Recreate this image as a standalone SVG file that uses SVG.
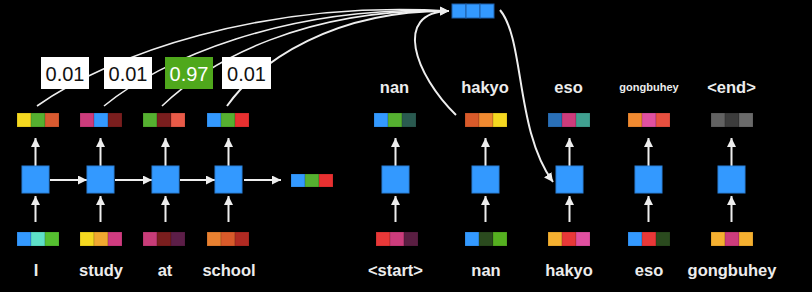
<svg xmlns="http://www.w3.org/2000/svg" width="812" height="292" viewBox="0 0 812 292">
<defs>
<marker id="ah" markerUnits="userSpaceOnUse" markerWidth="9" markerHeight="9" refX="9" refY="4.5" orient="auto">
<path d="M0,0 L9,4.5 L0,9 z" fill="#eeeeee"/>
</marker>
<style>
.cell{fill:#3399ff;stroke:#2a7fd6;stroke-width:1}
.sq{stroke:#000;stroke-opacity:0.25;stroke-width:0.6}
.arr{stroke:#eeeeee;stroke-width:2;fill:none;marker-end:url(#ah)}
.cur{stroke:#eeeeee;stroke-width:1.6;fill:none}
.lbl{font-family:"Liberation Sans",Arial,sans-serif;font-weight:bold;font-size:16.5px;fill:#ececec;text-anchor:middle}
.w{font-family:"Liberation Sans",Arial,sans-serif;font-size:20px;fill:#111;text-anchor:middle}
.wb{fill:#ffffff}
</style>
</defs>
<rect width="812" height="292" fill="#000"/>

<g id="connectors">
  <path class="cur" d="M37,106 C110,55 260,0 449,11"/>
  <path class="cur" d="M104,106 C160,60 285,5 449,11"/>
  <path class="cur" d="M162,106 C210,60 305,8 449,11"/>
  <path class="arr" d="M227,106 C260,60 335,10 449,11"/>
  <path class="arr" d="M456,115 C415,75 392,12 449,11"/>
  <path class="arr" d="M500,10 C525,40 515,130 553,182"/>
  <path class="arr" d="M50,180 H87"/>
  <path class="arr" d="M115,180 H152"/>
  <path class="arr" d="M180,180 H215"/>
  <path class="arr" d="M244,180 H281"/>
  <path class="arr" d="M35.5,222 V196"/>
  <path class="arr" d="M100.5,222 V196"/>
  <path class="arr" d="M165.5,222 V196"/>
  <path class="arr" d="M228.5,222 V196"/>
  <path class="arr" d="M35.5,166 V138"/>
  <path class="arr" d="M100.5,166 V138"/>
  <path class="arr" d="M165.5,166 V138"/>
  <path class="arr" d="M228.5,166 V138"/>
  <path class="arr" d="M395.5,222 V196"/>
  <path class="arr" d="M485.5,222 V196"/>
  <path class="arr" d="M569.5,222 V196"/>
  <path class="arr" d="M648.5,222 V196"/>
  <path class="arr" d="M731.5,222 V196"/>
  <path class="arr" d="M395.5,166 V138"/>
  <path class="arr" d="M485.5,166 V138"/>
  <path class="arr" d="M569.5,166 V138"/>
  <path class="arr" d="M648.5,166 V138"/>
  <path class="arr" d="M731.5,166 V138"/>
</g>

<g id="w1"><rect x="41" y="57" width="48" height="32" class="wb"/><text x="65" y="81" class="w">0.01</text></g>
<g id="w2"><rect x="104" y="57" width="48" height="32" class="wb"/><text x="128" y="81" class="w">0.01</text></g>
<g id="w3"><rect x="165" y="57" width="48" height="32" fill="#4fa81c"/><text x="189" y="81" class="w" style="fill:#ffffff">0.97</text></g>
<g id="w4"><rect x="222" y="57" width="49" height="32" class="wb"/><text x="246.5" y="81" class="w">0.01</text></g>

<g id="context">
  <rect x="452" y="4" width="14" height="14" fill="#3399ff" stroke="#1e5fa8" stroke-width="1"/>
  <rect x="466" y="4" width="14" height="14" fill="#3399ff" stroke="#1e5fa8" stroke-width="1"/>
  <rect x="480" y="4" width="14" height="14" fill="#3399ff" stroke="#1e5fa8" stroke-width="1"/>
</g>

<g id="enc1">
  <rect x="17" y="113" width="14" height="14" class="sq" fill="#f5d820"/><rect x="31" y="113" width="14" height="14" class="sq" fill="#55b030"/><rect x="45" y="113" width="14" height="14" class="sq" fill="#d85a30"/>
  <rect x="22" y="166" width="27" height="27" class="cell"/>
  <rect x="17" y="232" width="14" height="14" class="sq" fill="#3399ff"/><rect x="31" y="232" width="14" height="14" class="sq" fill="#5ee0c8"/><rect x="45" y="232" width="14" height="14" class="sq" fill="#55c030"/>
  <text x="36" y="276" class="lbl">I</text>
</g>
<g id="enc2">
  <rect x="80" y="113" width="14" height="14" class="sq" fill="#cc3c7c"/><rect x="94" y="113" width="14" height="14" class="sq" fill="#3399ff"/><rect x="108" y="113" width="14" height="14" class="sq" fill="#7a1e1e"/>
  <rect x="87" y="166" width="27" height="27" class="cell"/>
  <rect x="80" y="232" width="14" height="14" class="sq" fill="#f5d820"/><rect x="94" y="232" width="14" height="14" class="sq" fill="#f0a830"/><rect x="108" y="232" width="14" height="14" class="sq" fill="#d03c80"/>
  <text x="101" y="276" class="lbl">study</text>
</g>
<g id="enc3">
  <rect x="143" y="113" width="14" height="14" class="sq" fill="#55b030"/><rect x="157" y="113" width="14" height="14" class="sq" fill="#7a1e1e"/><rect x="171" y="113" width="14" height="14" class="sq" fill="#e85a48"/>
  <rect x="152" y="166" width="27" height="27" class="cell"/>
  <rect x="143" y="232" width="14" height="14" class="sq" fill="#c83c78"/><rect x="157" y="232" width="14" height="14" class="sq" fill="#7a1e1e"/><rect x="171" y="232" width="14" height="14" class="sq" fill="#5c1e48"/>
  <text x="165" y="276" class="lbl">at</text>
</g>
<g id="enc4">
  <rect x="207" y="113" width="14" height="14" class="sq" fill="#3399ff"/><rect x="221" y="113" width="14" height="14" class="sq" fill="#55b030"/><rect x="235" y="113" width="14" height="14" class="sq" fill="#e83030"/>
  <rect x="215" y="166" width="27" height="27" class="cell"/>
  <rect x="207" y="232" width="14" height="14" class="sq" fill="#e88030"/><rect x="221" y="232" width="14" height="14" class="sq" fill="#d85a2a"/><rect x="235" y="232" width="14" height="14" class="sq" fill="#b02a22"/>
  <text x="229" y="276" class="lbl">school</text>
</g>
<g id="enc_out">
  <rect x="291" y="174" width="14" height="13" class="sq" fill="#3399ff"/><rect x="305" y="174" width="14" height="13" class="sq" fill="#55b030"/><rect x="319" y="174" width="14" height="13" class="sq" fill="#e83030"/>
</g>

<g id="dec1">
  <text x="394.5" y="93" class="lbl">nan</text>
  <rect x="374" y="113" width="14" height="14" class="sq" fill="#3399ff"/><rect x="388" y="113" width="14" height="14" class="sq" fill="#55b030"/><rect x="402" y="113" width="14" height="14" class="sq" fill="#2a5a50"/>
  <rect x="382" y="166" width="27" height="27" class="cell"/>
  <rect x="376" y="232" width="14" height="14" class="sq" fill="#e83838"/><rect x="390" y="232" width="14" height="14" class="sq" fill="#cc3c7c"/><rect x="404" y="232" width="14" height="14" class="sq" fill="#5a1e42"/>
  <text x="395.5" y="276" class="lbl">&lt;start&gt;</text>
</g>
<g id="dec2">
  <text x="485" y="93" class="lbl">hakyo</text>
  <rect x="465" y="113" width="14" height="14" class="sq" fill="#d85a2a"/><rect x="479" y="113" width="14" height="14" class="sq" fill="#f08a30"/><rect x="493" y="113" width="14" height="14" class="sq" fill="#f5d820"/>
  <rect x="472" y="166" width="27" height="27" class="cell"/>
  <rect x="465" y="232" width="14" height="14" class="sq" fill="#3399ff"/><rect x="479" y="232" width="14" height="14" class="sq" fill="#2a4a1e"/><rect x="493" y="232" width="14" height="14" class="sq" fill="#55b020"/>
  <text x="486" y="276" class="lbl">nan</text>
</g>
<g id="dec3">
  <text x="568.5" y="93" class="lbl">eso</text>
  <rect x="548" y="113" width="14" height="14" class="sq" fill="#2a70b8"/><rect x="562" y="113" width="14" height="14" class="sq" fill="#cc3c7c"/><rect x="576" y="113" width="14" height="14" class="sq" fill="#40a090"/>
  <rect x="556" y="166" width="27" height="27" class="cell"/>
  <rect x="548" y="232" width="14" height="14" class="sq" fill="#f5b030"/><rect x="562" y="232" width="14" height="14" class="sq" fill="#e83838"/><rect x="576" y="232" width="14" height="14" class="sq" fill="#e050a0"/>
  <text x="569" y="276" class="lbl">hakyo</text>
</g>
<g id="dec4">
  <text x="649" y="91" class="lbl" style="font-size:11px">gongbuhey</text>
  <rect x="628" y="113" width="14" height="14" class="sq" fill="#f08a30"/><rect x="642" y="113" width="14" height="14" class="sq" fill="#e050a0"/><rect x="656" y="113" width="14" height="14" class="sq" fill="#e85040"/>
  <rect x="635" y="166" width="27" height="27" class="cell"/>
  <rect x="628" y="232" width="14" height="14" class="sq" fill="#3399ff"/><rect x="642" y="232" width="14" height="14" class="sq" fill="#e83838"/><rect x="656" y="232" width="14" height="14" class="sq" fill="#2a4a1e"/>
  <text x="649" y="276" class="lbl">eso</text>
</g>
<g id="dec5">
  <text x="731.5" y="93" class="lbl">&lt;end&gt;</text>
  <rect x="711" y="113" width="14" height="14" class="sq" fill="#626262"/><rect x="725" y="113" width="14" height="14" class="sq" fill="#3c3c3c"/><rect x="739" y="113" width="14" height="14" class="sq" fill="#6a6a6a"/>
  <rect x="718" y="166" width="27" height="27" class="cell"/>
  <rect x="711" y="232" width="14" height="14" class="sq" fill="#f5b030"/><rect x="725" y="232" width="14" height="14" class="sq" fill="#cc3c7c"/><rect x="739" y="232" width="14" height="14" class="sq" fill="#f5b030"/>
  <text x="732" y="276" class="lbl">gongbuhey</text>
</g>
</svg>
